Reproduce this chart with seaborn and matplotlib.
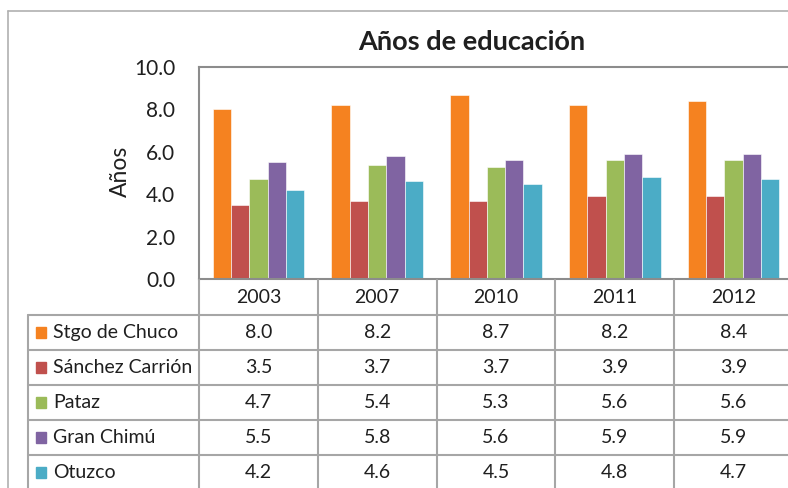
import numpy as np
import pandas as pd
import seaborn as sns
import matplotlib.pyplot as plt
from matplotlib.lines import Line2D
from matplotlib.patches import Rectangle

# datos de la tabla
years = ["2003", "2007", "2010", "2011", "2012"]
provincias = ["Stgo de Chuco", "Sánchez Carrión", "Pataz", "Gran Chimú", "Otuzco"]
stgo = [8.0, 8.2, 8.7, 8.2, 8.4]
sanchez = [3.5, 3.7, 3.7, 3.9, 3.9]
pataz = [4.7, 5.4, 5.3, 5.6, 5.6]
gran_chimu = [5.5, 5.8, 5.6, 5.9, 5.9]
otuzco = [4.2, 4.6, 4.5, 4.8, 4.7]
colores = ["#F58220", "#C0504D", "#9BBB59", "#8064A2", "#4BACC6"]

valores = [stgo, sanchez, pataz, gran_chimu, otuzco]
df = pd.DataFrame({
    "Año": years * len(provincias),
    "Provincia": np.repeat(provincias, len(years)),
    "Valor": np.concatenate(valores),
})

sns.set_theme(style="white")
plt.rcParams["font.family"] = ["Lato", "DejaVu Sans"]

W, H = 788, 488
fig = plt.figure(figsize=(W / 100, H / 100), dpi=100)


def box(x0, y0, x1, y1):
    return [x0 / W, 1 - y1 / H, (x1 - x0) / W, (y1 - y0) / H]


gris = "#a6a6a6"
texto = "#1f1f1f"

# barras
ax = fig.add_axes(box(199, 67, 793, 279))
sns.barplot(df, x="Año", y="Valor", hue="Provincia", order=years, hue_order=provincias,
            palette=colores, saturation=1, width=0.77, legend=False, ax=ax,
            edgecolor="white", linewidth=0.4)
ax.set_xlim(-0.5, 4.5)
ax.set_ylim(0, 10)
ticks = np.arange(0, 10.1, 2)
ax.set_yticks(ticks)
ax.set_yticklabels([f"{t:.1f}" for t in ticks])
ax.tick_params(axis="y", length=0, pad=17, labelsize=15, labelcolor=texto)
ax.set_xticks([])
ax.set_xlabel("")
ax.set_ylabel("")
for s in ax.spines.values():
    s.set_color("#8c8c8c")
    s.set_linewidth(1.5)

fig.text(120 / W, 1 - 171 / H, "Años", rotation=90, ha="center", va="center",
         fontsize=16.5, color=texto)
fig.text(472 / W, 1 - 42 / H, "Años de educación", ha="center", va="center",
         fontsize=19.5, fontweight="bold", color=texto)

# tabla de datos
tx = fig.add_axes(box(199, 280, 793, 490))
tx.set_xlim(-0.5, 4.5)
tx.set_ylim(6, 0)
tx.axis("off")
izq = -0.5 - 171 / 118.8
for i in range(6):
    tx.plot([-0.5 + i, -0.5 + i], [0, 6], color=gris, lw=1.5, clip_on=False)
tx.plot([izq, izq], [1, 6], color=gris, lw=1.5, clip_on=False)
for r in range(1, 6):
    tx.plot([izq, 4.5], [r, r], color=gris, lw=1.5, clip_on=False)

for i, y in enumerate(years):
    tx.text(i, 0.5, y, ha="center", va="center", fontsize=14, color=texto)
for r, (prov, vals, c) in enumerate(zip(provincias, valores, colores)):
    yc = r + 1.5
    for i, v in enumerate(vals):
        tx.text(i, yc, f"{v:.1f}", ha="center", va="center", fontsize=14, color=texto)
    tx.add_patch(Rectangle((-0.5 - 163 / 118.8, yc - 0.143), 10 / 118.8, 0.286,
                           color=c, clip_on=False))
    tx.text(-0.5 - 146 / 118.8, yc, prov, ha="left", va="center", fontsize=14, color=texto)

# borde del grafico
fig.add_artist(Line2D([8 / W, 8 / W], [0, 1 - 11 / H], color="#b0b0b0", lw=1.2))
fig.add_artist(Line2D([8 / W, 1], [1 - 11 / H, 1 - 11 / H], color="#b0b0b0", lw=1.2))

fig.savefig("out.png", dpi=100)
